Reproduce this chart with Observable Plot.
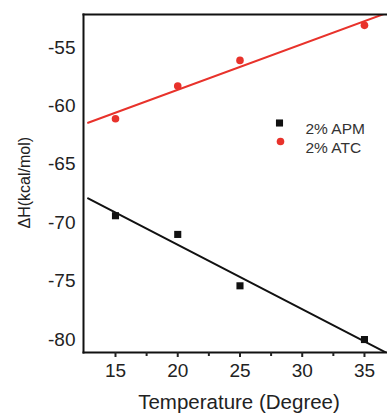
<!DOCTYPE html>
<html>
<head>
<meta charset="utf-8">
<script src="https://cdn.jsdelivr.net/npm/d3@7"></script>
<script src="https://cdn.jsdelivr.net/npm/@observablehq/plot@0.6"></script>
<style>
  html, body { margin: 0; padding: 0; background: #fff; }
  #chart { width: 387px; height: 414px; }
</style>
</head>
<body>
<div id="chart"></div>
<script>
const temps = [15, 20, 25, 35];
const apm = [-69.4, -71.0, -75.4, -80.0];
const atc = [-61.1, -58.3, -56.1, -53.1];
const seriesNames = ["2% APM", "2% ATC"];
const seriesColors = ["#111111", "#e8322b"];
const xTicks = [15, 20, 25, 30, 35];
const xMinorTicks = [17.5, 22.5, 27.5, 32.5];
const yTicks = [-55, -60, -65, -70, -75, -80];
const fitRange = [12.8, 37];
const xLabel = "Temperature (Degree)";
const yLabel = "ΔH(kcal/mol)";

function fit(xs, ys) {
  const mx = d3.mean(xs), my = d3.mean(ys);
  const sxy = d3.sum(xs, (x, i) => (x - mx) * (ys[i] - my));
  const sxx = d3.sum(xs, x => (x - mx) ** 2);
  const b = sxy / sxx, a = my - b * mx;
  return fitRange.map(x => ({x, y: a + b * x}));
}
const apmPts = temps.map((t, i) => ({x: t, y: apm[i]}));
const atcPts = temps.map((t, i) => ({x: t, y: atc[i]}));
const apmFit = fit(temps, apm);
const atcFit = fit(temps, atc);

const font = "'Liberation Sans', Arial, Helvetica, sans-serif";

const chart = Plot.plot({
  width: 387,
  height: 414,
  marginLeft: 83,
  marginRight: 0,
  marginTop: 14,
  marginBottom: 62,
  x: {domain: [12.43, 36.85]},
  y: {domain: [-81.11, -52.17]},
  style: {fontFamily: font, fontSize: "19px", color: "#222", background: "#fff"},
  marks: [
    Plot.line(atcFit, {x: "x", y: "y", stroke: seriesColors[1], strokeWidth: 2, clip: true}),
    Plot.line(apmFit, {x: "x", y: "y", stroke: seriesColors[0], strokeWidth: 2, clip: true}),
    Plot.dot(atcPts, {x: "x", y: "y", r: 3.8, fill: seriesColors[1], stroke: null}),
    Plot.dot(apmPts, {x: "x", y: "y", r: 4, symbol: "square", fill: seriesColors[0], stroke: null}),
    Plot.frame({anchor: "left", stroke: "#111", strokeWidth: 2}),
    Plot.frame({anchor: "top", stroke: "#111", strokeWidth: 2}),
    Plot.frame({anchor: "bottom", stroke: "#111", strokeWidth: 2}),
    Plot.axisX({ticks: xTicks, tickSize: 5, tickPadding: 6, strokeWidth: 2, tickFormat: d => String(d), label: null, fontSize: 19}),
    Plot.axisX({ticks: xMinorTicks, tickSize: 4, strokeWidth: 2, tickFormat: null, text: null, label: null}),
    Plot.axisY({ticks: yTicks, tickSize: 0, tickPadding: 8, tickFormat: d => String(d), label: null, fontSize: 19}),
    Plot.text([xLabel], {text: d => d, frameAnchor: "bottom", dx: 3.5, dy: 42, lineAnchor: "top", fontSize: 20.5, fill: "#222"}),
    Plot.text([yLabel], {text: d => d, frameAnchor: "left", dx: -59, dy: 45, rotate: -90, fontSize: 16, fill: "#222"}),
    Plot.dot([seriesNames[0]], {frameAnchor: "top-left", dx: 196, dy: 108.5, r: 4, symbol: "square", fill: seriesColors[0]}),
    Plot.dot([seriesNames[1]], {frameAnchor: "top-left", dx: 197, dy: 127, r: 3.8, fill: seriesColors[1]}),
    Plot.text([seriesNames[0]], {text: d => d, frameAnchor: "top-left", dx: 222, dy: 108, textAnchor: "start", fontSize: 15.5, fill: "#333"}),
    Plot.text([seriesNames[1]], {text: d => d, frameAnchor: "top-left", dx: 222, dy: 127, textAnchor: "start", fontSize: 15.5, fill: "#333"})
  ]
});
document.getElementById("chart").appendChild(chart);
</script>
</body>
</html>
